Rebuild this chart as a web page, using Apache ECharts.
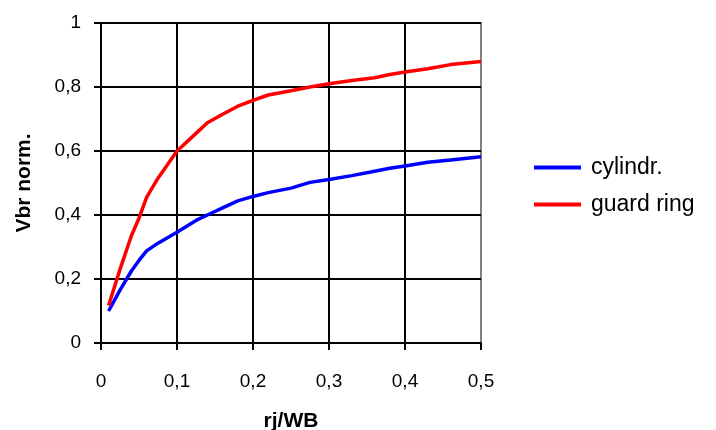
<!DOCTYPE html>
<html>
<head>
<meta charset="utf-8">
<script src="https://cdn.jsdelivr.net/npm/echarts@6/dist/echarts.min.js"></script>
<style>html,body{margin:0;padding:0;background:#fff}#c{width:716px;height:430px}</style>
</head>
<body>
<div id="c"></div>
<script>
const xValues = [0.01, 0.025, 0.04, 0.05, 0.06, 0.075, 0.1, 0.125, 0.14, 0.16, 0.18, 0.2, 0.22, 0.25, 0.275, 0.3, 0.33, 0.36, 0.38, 0.4, 0.43, 0.46, 0.5];
const cylindr = [0.10, 0.165, 0.225, 0.258, 0.288, 0.312, 0.346, 0.383, 0.40, 0.422, 0.444, 0.458, 0.47, 0.484, 0.502, 0.511, 0.523, 0.537, 0.546, 0.553, 0.565, 0.572, 0.582];
const guardRing = [0.117, 0.23, 0.335, 0.39, 0.455, 0.515, 0.60, 0.655, 0.688, 0.715, 0.74, 0.758, 0.775, 0.788, 0.80, 0.81, 0.82, 0.829, 0.839, 0.847, 0.857, 0.87, 0.88];
const seriesNames = ['cylindr.', 'guard ring'];
const xTicks = [0, 0.1, 0.2, 0.3, 0.4, 0.5];
const yTicks = [0, 0.2, 0.4, 0.6, 0.8, 1];

const FONT = '"Liberation Sans", Arial, sans-serif';
const fmt = v => String(+v.toFixed(1)).replace('.', ',');
const pairs = arr => xValues.map((x, i) => [x, arr[i]]);

const chart = echarts.init(document.getElementById('c'), null, {renderer: 'canvas'});
chart.setOption({
  animation: false,
  backgroundColor: '#fff',
  textStyle: {fontFamily: FONT, color: '#000'},
  grid: {left: 101, right: 235, top: 23, bottom: 87, containLabel: false, outerBoundsMode: 'none',
         show: true, borderColor: '#808080', borderWidth: 2, backgroundColor: 'transparent'},
  legend: {
    orient: 'vertical', left: 529, top: 151, itemGap: 14,
    itemWidth: 47, itemHeight: 4, icon: 'rect',
    textStyle: {fontFamily: FONT, fontSize: 23, color: '#000', padding: [0, 0, 0, 5]},
    data: seriesNames
  },
  xAxis: {
    type: 'value', min: xTicks[0], max: xTicks[xTicks.length - 1], interval: 0.1,
    name: 'rj/WB', nameLocation: 'middle', nameGap: 68,
    nameTextStyle: {fontFamily: FONT, fontSize: 21, fontWeight: 'bold', color: '#000'},
    axisLine: {show: true, onZero: false, lineStyle: {color: '#000', width: 2}},
    axisTick: {show: true, inside: false, length: 7, lineStyle: {color: '#000', width: 2}},
    axisLabel: {fontFamily: FONT, fontSize: 19, color: '#000', margin: 29, formatter: fmt},
    splitLine: {show: true, showMaxLine: false, lineStyle: {color: '#000', width: 2}}
  },
  yAxis: {
    type: 'value', min: yTicks[0], max: yTicks[yTicks.length - 1], interval: 0.2,
    name: 'Vbr norm.', nameLocation: 'middle', nameGap: 66,
    nameTextStyle: {fontFamily: FONT, fontSize: 21, fontWeight: 'bold', color: '#000'},
    axisLine: {show: true, lineStyle: {color: '#000', width: 2}},
    axisTick: {show: true, inside: false, length: 7, lineStyle: {color: '#000', width: 2}},
    axisLabel: {fontFamily: FONT, fontSize: 19, color: '#000', margin: 20, formatter: fmt},
    splitLine: {show: true, lineStyle: {color: '#000', width: 2}}
  },
  series: [
    {name: seriesNames[0], type: 'line', data: pairs(cylindr), showSymbol: false, symbol: 'none',
     lineStyle: {color: '#0000ff', width: 3.5}, itemStyle: {color: '#0000ff'}},
    {name: seriesNames[1], type: 'line', data: pairs(guardRing), showSymbol: false, symbol: 'none',
     lineStyle: {color: '#ff0000', width: 3.5}, itemStyle: {color: '#ff0000'}}
  ]
});
</script>
</body>
</html>
